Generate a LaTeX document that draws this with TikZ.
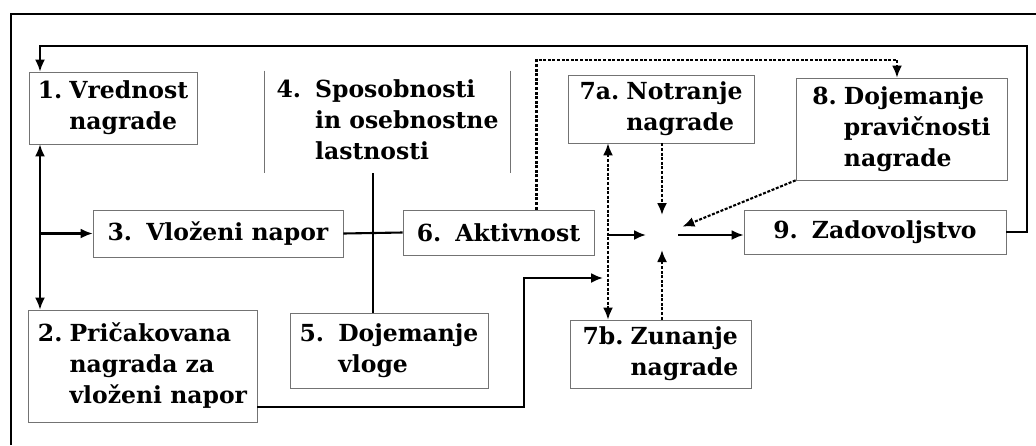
\documentclass[tikz,border=0pt]{standalone}
\usepackage{fontspec}
\setmainfont{DejaVu Serif}
\usetikzlibrary{arrows.meta,calc}
\begin{document}
\begin{tikzpicture}[x=1pt,y=-1pt,
  box/.style={draw=black!55, line width=0.7pt, inner sep=0pt,
    font=\bfseries\fontsize{23.5}{31}\selectfont},
  nobox/.style={box, draw=none},
  tip/.tip={Latex[length=12pt,width=10pt]},
  line/.style={line width=2.1pt},
  conn/.style={line, -tip},
  dconn/.style={conn, dash pattern=on 3pt off 1.6pt},
  frame/.style={line width=2pt}]
\useasboundingbox (0,0) rectangle (1036,445);
\fill[white] (0,0) rectangle (1036,445);
\draw[frame] (11,445) -- (11,14) -- (1036,14);

\newcommand{\hang}[2]{\begin{tabular}{@{}l@{\hspace{0.3em}}l@{}}#1 & #2\end{tabular}}

\node[box, minimum width=168pt, minimum height=72pt] (n1) at (113,108)
  {\hang{1.}{Vrednost\\ & nagrade}};
\node[box, minimum width=229pt, minimum height=112pt] (n2) at (142.5,366)
  {\hang{2.}{Pričakovana\\ & nagrada za\\ & vloženi napor}};
\node[box, minimum width=250pt, minimum height=47pt] (n3) at (218,233.5)
  {3.\hspace{0.6em}Vloženi napor};
\node[nobox, minimum width=245pt, minimum height=102pt] (n4) at (387.5,122)
  {\hang{4.\hspace{0.3em}}{Sposobnosti\\ & in osebnostne\\ & lastnosti}};
\draw[black!55, line width=0.7pt] (n4.north west) -- (n4.south west)
  (n4.north east) -- (n4.south east);
\node[box, minimum width=198pt, minimum height=75pt] (n5) at (389,350.5)
  {\hang{5.\hspace{0.3em}}{Dojemanje\\ & vloge}};
\node[box, minimum width=191pt, minimum height=45pt] (n6) at (498.5,232.5)
  {6.\hspace{0.6em}Aktivnost};
\node[box, minimum width=186pt, minimum height=68pt] (n7a) at (661,109)
  {\hang{7a.}{Notranje\\ & nagrade}};
\node[box, minimum width=181pt, minimum height=68pt] (n7b) at (660.5,354)
  {\hang{7b.}{Zunanje\\ & nagrade}};
\node[box, minimum width=211pt, minimum height=102pt] (n8) at (901.5,129)
  {\hang{8.}{Dojemanje\\ & pravičnosti\\ & nagrade}};
\node[box, minimum width=262pt, minimum height=44pt] (n9) at (875,232)
  {9.\hspace{0.6em}Zadovoljstvo};
\coordinate (c) at (662,235);

% feedback loop
\coordinate (fb) at (40,46);
\draw[conn] (n9.east) -- ++(21,0) |- (fb) -- (fb |- n1.north);

% left branch
\coordinate (lx) at (40,0);
\draw[line, tip-tip] (lx |- n1.south) -- (lx |- n2.north);
\draw[conn] (lx |- n3.west) -- (n3.west);

% middle
\draw[line] (n3.east) -- (n6.west);
\coordinate (vx) at (373,0);
\draw[line] (vx |- n4.south) -- (vx |- n5.north);
\coordinate (p2) at (524,278);
\draw[conn] ([yshift=-41pt]n2.east) -| (p2) -- ++(79,0);

% right
\coordinate (dv) at (608,0);
\draw[dconn, tip-tip] (dv |- n7a.south) -- (dv |- n7b.north);
\draw[conn, shorten >=16pt] (dv |- c) -- (c);
\draw[dconn, shorten >=20pt] (c |- n7a.south) -- (c);
\draw[dconn, shorten >=15pt] (c |- n7b.north) -- (c);
\draw[dconn, shorten >=22pt] (n8.south west) -- (c);
\draw[conn, shorten <=16pt] (c) -- (c -| n9.west);
\coordinate (dtop) at (897,60);
\draw[dconn] ([xshift=38pt]n6.north) |- (dtop) -- (dtop |- n8.north);
\end{tikzpicture}
\end{document}
